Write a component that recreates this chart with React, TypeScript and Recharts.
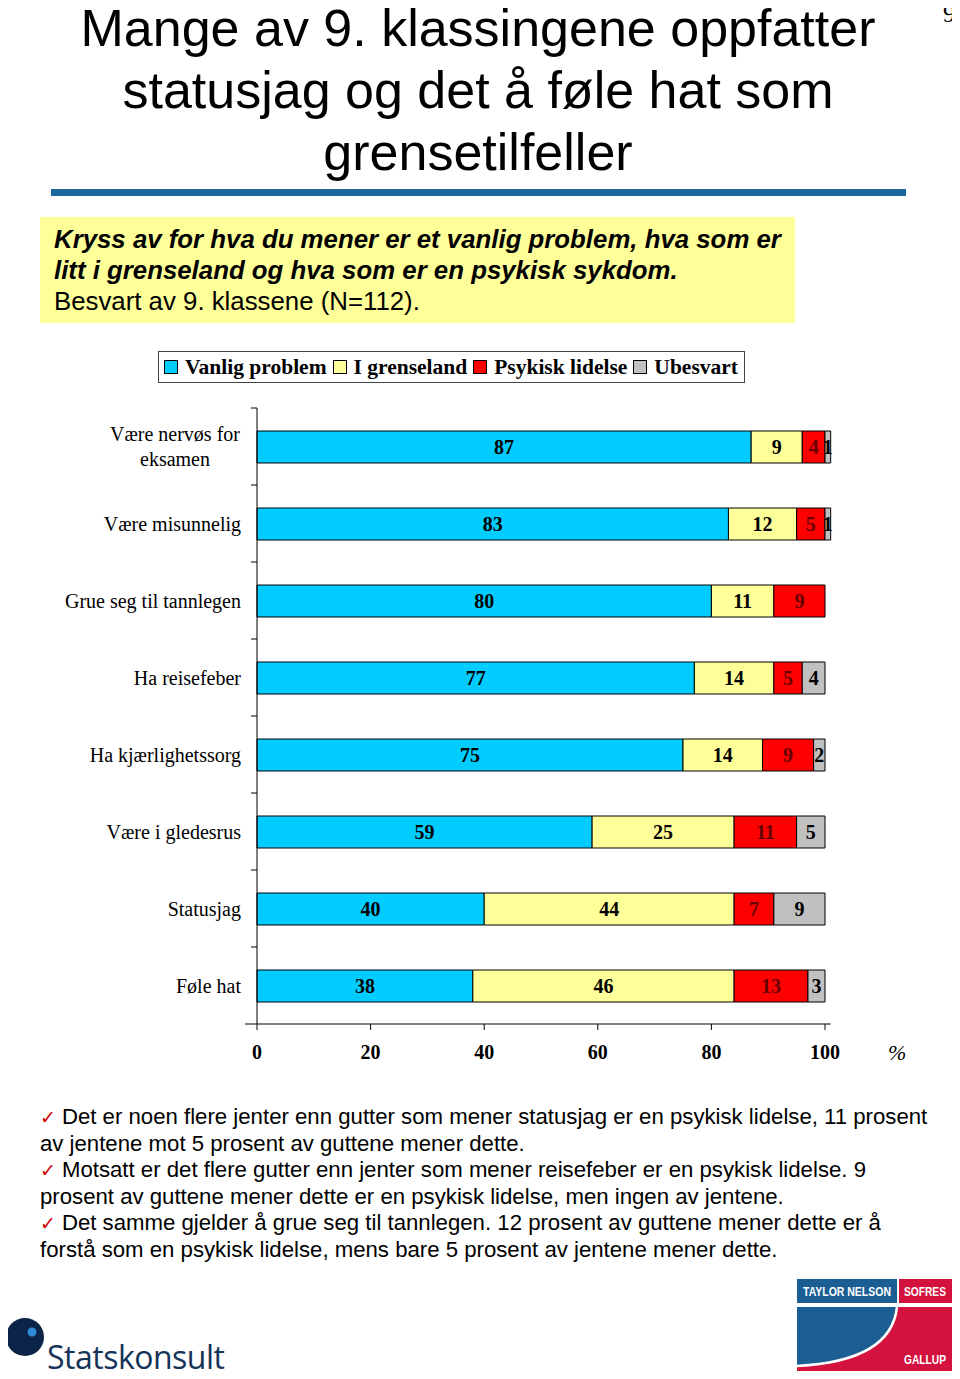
import React from 'react';
import { BarChart, Bar, XAxis, YAxis, Legend, LabelList } from 'recharts';

const categories = [
  'Være nervøs for\neksamen',
  'Være misunnelig',
  'Grue seg til tannlegen',
  'Ha reisefeber',
  'Ha kjærlighetssorg',
  'Være i gledesrus',
  'Statusjag',
  'Føle hat',
];
const vanligProblem = [87, 83, 80, 77, 75, 59, 40, 38];
const iGrenseland = [9, 12, 11, 14, 14, 25, 44, 46];
const psykiskLidelse = [4, 5, 9, 5, 9, 11, 7, 13];
const ubesvart = [1, 1, 0, 4, 2, 5, 9, 3];
const xTicks = [0, 20, 40, 60, 80, 100];

const seriesNames = ['Vanlig problem', 'I grenseland', 'Psykisk lidelse', 'Ubesvart'];
const seriesColors = ['#00CCFF', '#FFFF99', '#FF0000', '#C0C0C0'];
const labelColors = ['#000000', '#000000', '#660000', '#000000'];
const seriesKeys = ['vanlig', 'grense', 'psykisk', 'ubesvart'];

const chartData = categories.map((name, i) => ({
  name,
  vanlig: vanligProblem[i],
  grense: iGrenseland[i],
  psykisk: psykiskLidelse[i],
  ubesvart: ubesvart[i],
}));

const SERIF = '"Liberation Serif", "Times New Roman", serif';
const SANS = '"Liberation Sans", Arial, sans-serif';
const NARROW = '"Liberation Sans Narrow", "Liberation Sans", Arial, sans-serif';

const PLOT_TOP = 68;
const PLOT_HEIGHT = 616;
const BAND = PLOT_HEIGHT / categories.length;
// some rows add up to 101 (rounding), so the axis runs a little past 100
const maxTotal = Math.max(...categories.map((_, i) => vanligProblem[i] + iGrenseland[i] + psykiskLidelse[i] + ubesvart[i]));
const PLOT_WIDTH_100 = 568;
const RIGHT_MARGIN = 960 - 257 - (PLOT_WIDTH_100 * maxTotal) / 100;

function CategoryTick(props: any) {
  const { x, y, payload, index } = props;
  const lines = String(payload.value).split('\n');
  const axisX = x + 16;
  const multi = lines.length > 1;
  const tx = multi ? x - 66 : x;
  return (
    <g>
      <line x1={axisX - 6} x2={axisX} y1={y - BAND / 2} y2={y - BAND / 2} stroke="#000" />
      {index === categories.length - 1 && (
        <line x1={axisX - 12} x2={axisX} y1={y + BAND / 2} y2={y + BAND / 2} stroke="#000" />
      )}
      <text x={tx} y={y} textAnchor={multi ? 'middle' : 'end'} fontFamily={SERIF} fontSize={20} fill="#000">
        {lines.map((l, k) => (
          <tspan key={k} x={tx} dy={k === 0 ? (1 - lines.length) * 12.5 + 7 : 25}>
            {l}
          </tspan>
        ))}
      </text>
    </g>
  );
}

function makeLabel(color: string) {
  return (props: any) => {
    const { x, y, width, height, value } = props;
    if (!value) return null;
    return (
      <text
        x={x + width / 2}
        y={y + height / 2 + 7}
        textAnchor="middle"
        fontFamily={SERIF}
        fontWeight="bold"
        fontSize={20}
        fill={color}
      >
        {value}
      </text>
    );
  };
}

function LegendBox() {
  return (
    <div
      style={{
        display: 'flex',
        alignItems: 'center',
        justifyContent: 'space-between',
        border: '1.5px solid #444',
        height: 32,
        boxSizing: 'border-box',
        padding: '0 6px 0 5px',
        fontFamily: SERIF,
        fontWeight: 'bold',
        fontSize: 21.5,
        background: '#fff',
        width: 587,
        whiteSpace: 'nowrap',
      }}
    >
      {seriesNames.map((n, i) => (
        <div key={n} style={{ display: 'flex', alignItems: 'center' }}>
          <span
            style={{
              display: 'inline-block',
              width: 12,
              height: 12,
              background: seriesColors[i],
              border: '1px solid #000',
              marginRight: 7,
            }}
          />
          <span>{n}</span>
        </div>
      ))}
    </div>
  );
}

function Statskonsult() {
  return (
    <svg width={250} height={77} style={{ position: 'absolute', left: 0, top: 1302 }}>
      <circle cx={25} cy={35} r={19} fill="#0B2447" />
      <circle cx={32} cy={30} r={4.5} fill="#2E8BD6" />
      <text x={47} y={67} fontFamily='"Open Sans", sans-serif' fontSize={32} fill="#163459" letterSpacing={-0.5}>
        Statskonsult
      </text>
    </svg>
  );
}

function TnsGallup() {
  const blue = '#1B5E94';
  const red = '#D4123F';
  return (
    <svg width={160} height={100} style={{ position: 'absolute', left: 796, top: 1277 }}>
      <rect x={1} y={2} width={100} height={24} fill={blue} />
      <rect x={103} y={2} width={53} height={24} fill={red} />
      <text x={7} y={19} textLength={88} lengthAdjust="spacingAndGlyphs" fontFamily={NARROW} fontWeight="bold" fontSize={12.5} fill="#fff">
        TAYLOR NELSON
      </text>
      <text x={108} y={19} textLength={42} lengthAdjust="spacingAndGlyphs" fontFamily={NARROW} fontWeight="bold" fontSize={12.5} fill="#fff">
        SOFRES
      </text>
      <rect x={1} y={30} width={155} height={65} fill={red} />
      <path d="M1,30 L101,30 C97,68 60,86 1,89 Z" fill={blue} />
      <path d="M101,30 C97,68 60,86 1,89" fill="none" stroke="#fff" strokeWidth={2.5} />
      <text x={108} y={87} textLength={42} lengthAdjust="spacingAndGlyphs" fontFamily={NARROW} fontWeight="bold" fontSize={12.5} fill="#fff">
        GALLUP
      </text>
    </svg>
  );
}

const titleLines = ['Mange av 9. klassingene oppfatter', 'statusjag og det å føle hat som', 'grensetilfeller'];

const bulletLines = [
  { check: true, text: 'Det er noen flere jenter enn gutter som mener statusjag er en psykisk lidelse, 11 prosent' },
  { check: false, text: 'av jentene mot 5 prosent av guttene mener dette.' },
  { check: true, text: 'Motsatt er det flere gutter enn jenter som mener reisefeber er en psykisk lidelse. 9' },
  { check: false, text: 'prosent av guttene mener dette er en psykisk lidelse, men ingen av jentene.' },
  { check: true, text: 'Det samme gjelder å grue seg til tannlegen. 12 prosent av guttene mener dette er å' },
  { check: false, text: 'forstå som en psykisk lidelse, mens bare 5 prosent av jentene mener dette.' },
];

export default function App() {
  return (
    <div style={{ position: 'relative', width: 960, height: 1379, margin: -8, background: '#fff', overflow: 'hidden' }}>
      <div style={{ position: 'absolute', left: 943, top: 0, fontFamily: SERIF, fontSize: 25, lineHeight: '28px' }}>9</div>

      {titleLines.map((t, i) => (
        <div
          key={t}
          style={{
            position: 'absolute',
            left: 0,
            top: 2 + i * 62,
            width: 956,
            textAlign: 'center',
            fontFamily: SANS,
            fontSize: 52,
            lineHeight: '52px',
            color: '#000',
            whiteSpace: 'nowrap',
          }}
        >
          {t}
        </div>
      ))}
      <div style={{ position: 'absolute', left: 51, top: 189, width: 855, height: 7, background: '#1A679E' }} />

      <div
        style={{
          position: 'absolute',
          left: 40,
          top: 217,
          width: 755,
          height: 106,
          background: '#FFFF99',
          boxSizing: 'border-box',
          padding: '7px 0 0 14px',
          fontFamily: SANS,
          fontSize: 25.8,
          lineHeight: '31px',
          color: '#000',
          whiteSpace: 'nowrap',
        }}
      >
        <div style={{ fontWeight: 'bold', fontStyle: 'italic' }}>Kryss av for hva du mener er et vanlig problem, hva som er</div>
        <div style={{ fontWeight: 'bold', fontStyle: 'italic' }}>litt i grenseland og hva som er en psykisk sykdom.</div>
        <div>Besvart av 9. klassene (N=112).</div>
      </div>

      <div style={{ position: 'absolute', left: 0, top: 340 }}>
        <BarChart
          width={960}
          height={730}
          data={chartData}
          layout="vertical"
          margin={{ top: PLOT_TOP, right: RIGHT_MARGIN, bottom: 6, left: 0 }}
          barSize={32}
        >
          <XAxis
            type="number"
            domain={[0, 100]}
            ticks={xTicks}
            axisLine={{ stroke: '#000' }}
            tickLine={{ stroke: '#000' }}
            tickSize={6}
            tickMargin={15}
            height={40}
            tick={{ fontFamily: SERIF, fontWeight: 'bold', fontSize: 20, fill: '#000' }}
          />
          <YAxis
            type="category"
            dataKey="name"
            width={257}
            axisLine={{ stroke: '#000' }}
            tickLine={false}
            tickSize={0}
            tickMargin={16}
            interval={0}
            tick={<CategoryTick />}
          />
          <Legend
            layout="horizontal"
            verticalAlign="middle"
            align="center"
            wrapperStyle={{ top: 11, left: 158, width: 587 }}
            content={() => <LegendBox />}
          />
          {seriesKeys.map((k, i) => (
            <Bar
              key={k}
              dataKey={k}
              name={seriesNames[i]}
              stackId="a"
              fill={seriesColors[i]}
              stroke="#000"
              strokeWidth={1}
              isAnimationActive={false}
            >
              <LabelList dataKey={k} content={makeLabel(labelColors[i])} />
            </Bar>
          ))}
        </BarChart>
      </div>
      <div style={{ position: 'absolute', left: 888, top: 1040, fontFamily: SERIF, fontSize: 22, fontStyle: 'italic' }}>%</div>

      <div style={{ position: 'absolute', left: 40, top: 1104, fontFamily: SANS, fontSize: 22.2, lineHeight: '26.6px', color: '#000' }}>
        {bulletLines.map((b, i) => (
          <div key={i} style={{ whiteSpace: 'nowrap' }}>
            {b.check && (
              <span style={{ color: '#CC0000', fontFamily: '"DejaVu Sans", sans-serif', fontSize: 19, marginRight: 6 }}>✓</span>
            )}
            {b.text}
          </div>
        ))}
      </div>

      <Statskonsult />
      <TnsGallup />
    </div>
  );
}
